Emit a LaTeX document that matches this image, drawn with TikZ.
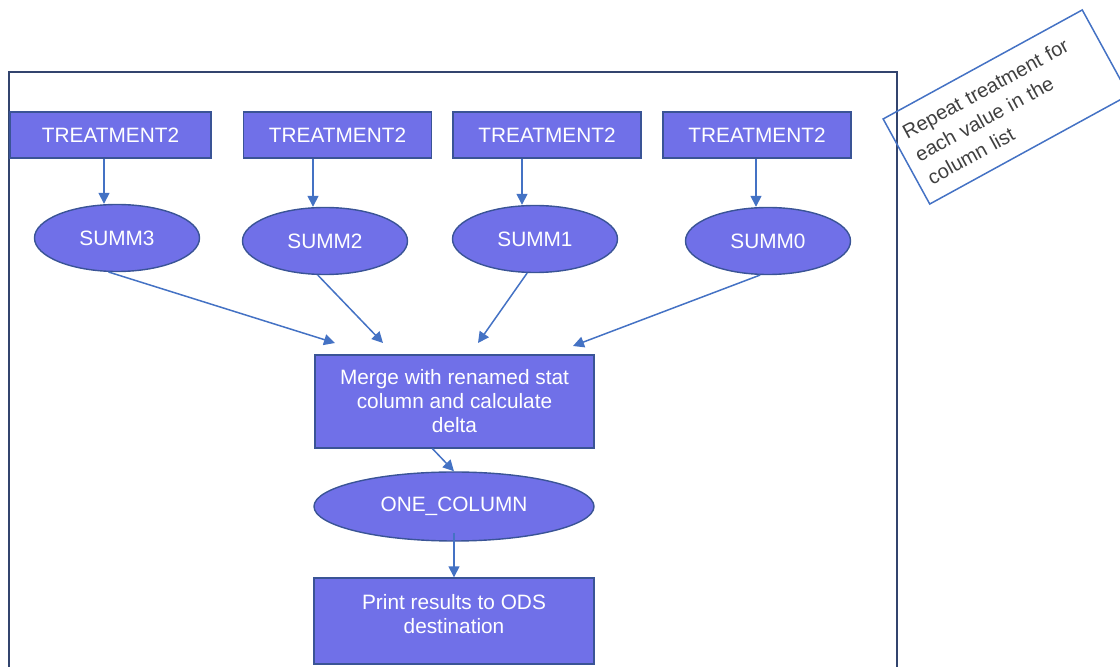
\documentclass[tikz,border=0pt]{standalone}
\usepackage{fontspec}
\setmainfont{Liberation Sans}
\usetikzlibrary{arrows.meta,shapes.geometric}
\definecolor{boxfill}{RGB}{112,112,232}
\definecolor{boxline}{RGB}{58,84,150}
\definecolor{arrcol}{RGB}{68,114,196}
\definecolor{framecol}{RGB}{50,68,110}
\begin{document}
\begin{tikzpicture}[x=0.5pt,y=-0.5pt, every node/.style={font=\fontsize{10.4}{12}\selectfont},box/.style={draw=boxline,line width=0.7pt,fill=boxfill,text=white,align=center,inner sep=0pt,minimum width=94pt,minimum height=23pt},oval/.style={ellipse,draw=boxline,line width=0.7pt,fill=boxfill,text=white,inner sep=0pt,minimum width=82.5pt,minimum height=33.5pt},arr/.style={draw=arrcol,line width=0.75pt,-{Triangle[length=5.5pt,width=5.5pt]}}]
\useasboundingbox (0,0) rectangle (1120,667);
\draw[framecol,line width=1pt] (9,667) |- (897,72) -- (897,667);
\node[box,minimum width=100.5pt] (treat3) at (110.5,135) {TREATMENT2};
\node[box] (treat2) at (337.5,135) {TREATMENT2};
\node[box] (treat1) at (547,135) {TREATMENT2};
\node[box] (treat0) at (757,135) {TREATMENT2};
\node[oval] (summ3) at (117,238) {SUMM3};
\node[oval] (summ2) at (325,241) {SUMM2};
\node[oval] (summ1) at (535,239) {SUMM1};
\node[oval] (summ0) at (768,241) {SUMM0};
\node[box,minimum width=139.5pt,minimum height=46.5pt] (merge) at (454.5,401.5) {Merge with renamed stat\\column and calculate\\delta};
\node[oval,minimum width=140pt,minimum height=34.5pt] (onecol) at (454,506.5) {ONE\_COLUMN};
\node[box,minimum width=140pt,minimum height=43pt] (print) at (454,621) {Print results to ODS\\destination\\[-4.5pt]\mbox{}};
\node[draw=arrcol,line width=0.75pt,rotate=28.7,minimum width=113.5pt,minimum height=48.5pt,text width=102pt,align=left,inner sep=0pt,font=\fontsize{10}{13}\selectfont,text=black!75] (note) at (1006,107) {Repeat treatment for\\each value in the\\column list};
\coordinate (in3) at (335,343);\coordinate (in2) at (383,343);\coordinate (in1) at (478,343);\coordinate (in0) at (573,346);
\foreach \n/\x in {3/104,2/313,1/522,0/756} \draw[arr] (\x,0 |- treat\n.south) -- (\x,0 |- summ\n.north);
\draw[arr] (summ3.256)--(in3);\draw[arr] (summ2.258)--(in2);\draw[arr] (summ1.257)--(in1);\draw[arr] (summ0.257)--(in0);
\draw[arr] ([xshift=-11pt]merge.south)--(onecol.north);\draw[arr] ([yshift=4.5pt]onecol.south)--(print.north);
\end{tikzpicture}
\end{document}
